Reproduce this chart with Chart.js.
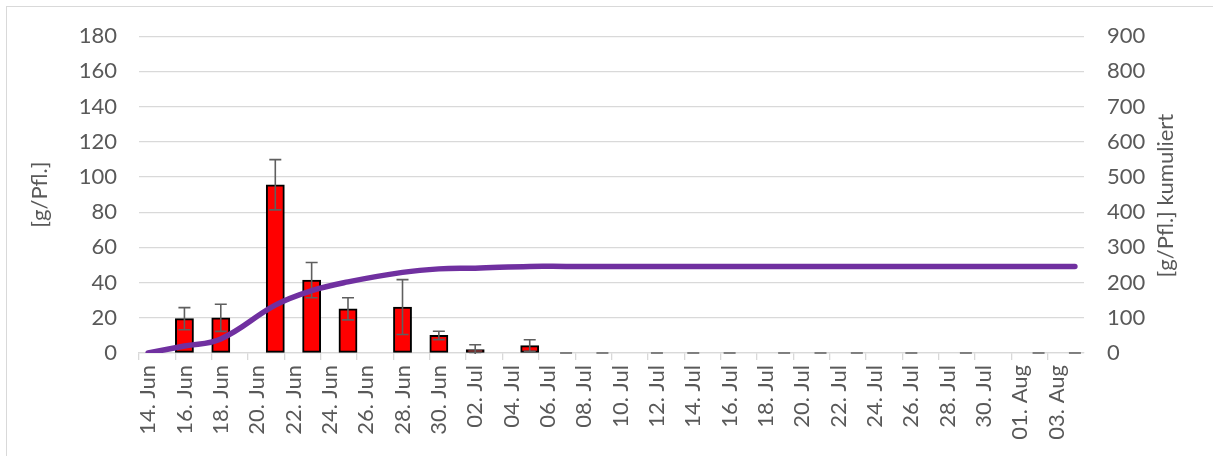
<!DOCTYPE html>
<html><head><meta charset="utf-8">
<script src="https://cdn.jsdelivr.net/npm/chart.js@4"></script>
<style>
html,body{margin:0;padding:0;background:#fff;overflow:hidden}
#wrap{position:relative;width:1213px;height:456px;overflow:hidden}
#frame{position:absolute;left:6px;top:6px;width:1400px;height:600px;border:1px solid #d9d9d9}
#c{position:absolute;left:0;top:0}
</style></head><body>
<div id="wrap"><div id="frame"></div><canvas id="c" width="1213" height="456"></canvas></div>
<script>
// daily categories (14 Jun - 04 Aug); every second day is labelled
const days = [
 "14. Jun","15. Jun","16. Jun","17. Jun","18. Jun","19. Jun","20. Jun","21. Jun","22. Jun","23. Jun",
 "24. Jun","25. Jun","26. Jun","27. Jun","28. Jun","29. Jun","30. Jun","01. Jul","02. Jul","03. Jul",
 "04. Jul","05. Jul","06. Jul","07. Jul","08. Jul","09. Jul","10. Jul","11. Jul","12. Jul","13. Jul",
 "14. Jul","15. Jul","16. Jul","17. Jul","18. Jul","19. Jul","20. Jul","21. Jul","22. Jul","23. Jul",
 "24. Jul","25. Jul","26. Jul","27. Jul","28. Jul","29. Jul","30. Jul","31. Jul","01. Aug","02. Aug",
 "03. Aug","04. Aug"
];
// [g/Pfl.] per harvest date (null = no harvest)
const weight = [
 null,null,19.5,null,20.0,null,null,95.6,null,41.4,
 null,25.1,null,null,26.1,null,10.0,null,1.9,null,
 null,4.2,null,0,null,0,null,null,0,null,
 0,null,0,null,null,0,null,0,null,0,
 null,null,0,null,null,0,null,null,null,0,
 null,0
];
// error bar half-lengths
const weightErr = [
 null,null,6.3,null,7.7,null,null,14.3,null,10.0,
 null,6.3,null,null,15.6,null,2.4,null,2.8,null,
 null,3.3,null,0,null,0,null,null,0,null,
 0,null,0,null,null,0,null,0,null,0,
 null,null,0,null,null,0,null,null,null,0,
 null,0
];
// cumulated [g/Pfl.] (right axis)
const cumulative = [
 0,null,20,null,40,null,null,136,null,177,
 null,202,null,null,229,null,239,null,241,null,
 null,246,null,246,null,246,null,null,246,null,
 246,null,246,null,null,246,null,246,null,246,
 null,null,246,null,null,246,null,null,null,246,
 null,246
];
const leftTicks = {min:0,max:180,step:20};
const rightTicks = {min:0,max:900,step:100};

const FONT = 'Lato';
const FSIZE = 22;
const TXT = '#595959';
const GRID = '#d9d9d9';

const errorBars = {
  id:'errorBars',
  afterDatasetDraw(chart, args){
    if (args.index !== 1) return;
    const meta = args.meta, y = chart.scales.y, ctx = chart.ctx, a = chart.chartArea;
    ctx.save();
    ctx.beginPath(); ctx.rect(a.left, a.top-20, a.right-a.left, a.bottom-a.top+21); ctx.clip();
    ctx.strokeStyle = '#5f5f5f'; ctx.lineWidth = 1.6;
    meta.data.forEach((bar,i)=>{
      const v = weight[i]; if (v === null || v === undefined) return;
      const e = weightErr[i];
      const x = bar.x, half = 6;
      const yt = y.getPixelForValue(v+e), yb = y.getPixelForValue(v-e);
      ctx.beginPath();
      ctx.moveTo(x, yt); ctx.lineTo(x, yb);
      ctx.moveTo(x-half, yt); ctx.lineTo(x+half, yt);
      ctx.moveTo(x-half, yb); ctx.lineTo(x+half, yb);
      ctx.stroke();
    });
    ctx.restore();
  }
};
const rightTitle = {
  id:'rightTitle',
  afterDraw(chart){
    const ctx = chart.ctx, a = chart.chartArea;
    ctx.save();
    ctx.translate(1166, (a.top+a.bottom)/2 + 1);
    ctx.rotate(-Math.PI/2);
    ctx.font = FSIZE + 'px ' + FONT;
    ctx.fillStyle = TXT; ctx.textAlign = 'center'; ctx.textBaseline = 'middle';
    ctx.fillText('[g/Pfl.] kumuliert', 0, 0);
    ctx.restore();
  }
};

new Chart(document.getElementById('c'), {
  data: {
    labels: days,
    datasets: [
      { type:'line', label:'kumuliert', data: cumulative, yAxisID:'y2', order:0,
        borderColor:'#7030a0', borderWidth:5.5, borderCapStyle:'round', borderJoinStyle:'round',
        pointRadius:0, pointHoverRadius:0, tension:0.4, spanGaps:true, fill:false },
      { type:'bar', label:'g/Pfl.', data: weight, yAxisID:'y', order:1,
        backgroundColor:'#ff0000', borderColor:'#000000', borderWidth:2, borderSkipped:false,
        barPercentage:1, categoryPercentage:1 }
    ]
  },
  options: {
    responsive:false, animation:false, events:[],
    layout:{ padding:{ top:35, left:0, right:0, bottom:0 } },
    plugins:{ legend:{display:false}, tooltip:{enabled:false} },
    scales:{
      x:{ type:'category', offset:true,
        grid:{ display:true, offset:true, drawOnChartArea:false, drawTicks:true, tickLength:7,
          color:(c)=> (c.index % 2 === 0 ? GRID : 'rgba(0,0,0,0)'), lineWidth:1.3 },
        border:{ display:true, color:GRID, width:1.3 },
        ticks:{ autoSkip:false, minRotation:90, maxRotation:90, padding:5, color:TXT,
          font:{ family:FONT, size:FSIZE },
          callback:(v,i)=> (i % 2 === 0 ? days[i] : '') },
        afterFit:(s)=>{ s.height = 103; }
      },
      y:{ position:'left', min:leftTicks.min, max:leftTicks.max,
        ticks:{ stepSize:leftTicks.step, padding:22, color:TXT, font:{family:FONT, size:FSIZE} },
        grid:{ color:GRID, lineWidth:1.3, drawTicks:false },
        border:{ display:false },
        title:{ display:true, text:'[g/Pfl.]', color:TXT, font:{family:FONT, size:FSIZE}, padding:{top:27,bottom:0} },
        afterFit:(s)=>{ s.width = 139; }
      },
      y2:{ position:'right', min:rightTicks.min, max:rightTicks.max,
        ticks:{ stepSize:rightTicks.step, padding:23, color:TXT, font:{family:FONT, size:FSIZE} },
        grid:{ display:false, drawTicks:false },
        border:{ display:false },
        afterFit:(s)=>{ s.width = 129; }
      }
    }
  },
  plugins:[errorBars, rightTitle]
});
</script>
</body></html>
